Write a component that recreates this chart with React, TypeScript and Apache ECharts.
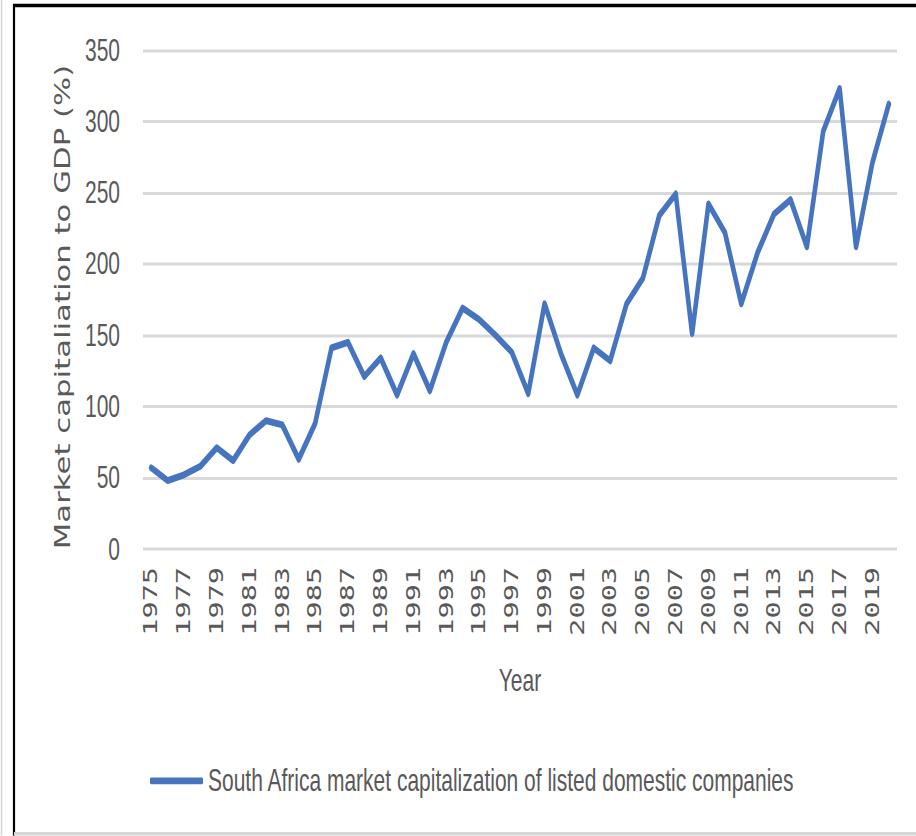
import React, { useEffect, useRef } from "react";
import * as echarts from "echarts";

// Annual market capitalization of listed domestic companies, % of GDP
const years: string[] = [
  "1975", "1976", "1977", "1978", "1979", "1980", "1981", "1982", "1983", "1984",
  "1985", "1986", "1987", "1988", "1989", "1990", "1991", "1992", "1993", "1994",
  "1995", "1996", "1997", "1998", "1999", "2000", "2001", "2002", "2003", "2004",
  "2005", "2006", "2007", "2008", "2009", "2010", "2011", "2012", "2013", "2014",
  "2015", "2016", "2017", "2018", "2019", "2020",
];

const marketCapToGdp: number[] = [
  57, 48, 52, 58, 71, 62, 80, 90, 87, 63,
  88, 141, 145, 121, 134, 108, 137, 111, 145, 169,
  161, 150, 138, 109, 172, 137, 108, 141, 132, 172,
  190, 234, 249, 151, 242, 222, 172, 208, 235, 245,
  212, 293, 323, 212, 271, 312,
];

const seriesName = "South Africa market capitalization of listed domestic companies";
const yAxisTitle = "Market capitaliation to GDP (%)";
const xAxisTitle = "Year";
const yMin = 0;
const yMax = 350;
const yStep = 50;

// The figure is drawn on a shorter canvas and stretched vertically.
const S = 1.5;
const W = 916;
const H = 836;
const innerH = H / S;

const textGrey = "#595959";
const lineBlue = "#4674BF";

export default function App() {
  const ref = useRef<HTMLDivElement>(null);

  useEffect(() => {
    const chart = echarts.init(ref.current!, null, { renderer: "svg" });
    chart.setOption({
      animation: false,
      backgroundColor: "#ffffff",
      grid: {
        left: 143,
        right: 19,
        top: 50 / S,
        bottom: innerH - 549.5 / S,
        containLabel: false,
      },
      xAxis: {
        type: "category",
        data: years,
        boundaryGap: true,
        name: xAxisTitle,
        nameLocation: "middle",
        nameGap: 77,
        nameTextStyle: {
          fontFamily: "Liberation Sans",
          fontSize: 21,
          color: textGrey,
        },
        axisLine: { show: false },
        axisTick: { show: false },
        axisLabel: {
          interval: 1,
          rotate: 90,
          margin: 12,
          fontFamily: "DejaVu Sans Mono",
          fontSize: 19,
          color: textGrey,
        },
        splitLine: { show: false },
      },
      yAxis: {
        type: "value",
        min: yMin,
        max: yMax,
        interval: yStep,
        axisLine: { show: false },
        axisTick: { show: false },
        axisLabel: {
          margin: 23,
          fontFamily: "Liberation Sans",
          fontSize: 21,
          color: textGrey,
        },
        splitLine: { lineStyle: { color: "#d9d9d9", width: 2 } },
      },
      legend: {
        show: true,
        left: 150,
        top: 510,
        padding: 0,
        icon: "roundRect",
        itemWidth: 53,
        itemHeight: 4.5,
        textStyle: {
          fontFamily: "Liberation Sans",
          fontSize: 21,
          color: textGrey,
        },
        data: [seriesName],
      },
      graphic: [
        {
          type: "rect",
          silent: true,
          shape: { x: 14, y: 5.5 / S, width: 1000, height: 1000 },
          style: { fill: "none", stroke: "#000000", lineWidth: 2.2 },
        },
        {
          type: "line",
          silent: true,
          shape: { x1: 1.5, y1: 0, x2: 1.5, y2: innerH },
          style: { stroke: "#d4d4d4", lineWidth: 1.5 },
        },
        {
          type: "rect",
          silent: true,
          shape: { x: 14, y: 832 / S, width: W, height: 4 / S },
          style: { fill: "#d6d6d6" },
        },
        {
          type: "text",
          silent: true,
          x: 63,
          y: 307 / S,
          rotation: Math.PI / 2,
          style: {
            text: yAxisTitle,
            fontFamily: "DejaVu Sans",
            fontSize: 20.5,
            fill: textGrey,
            align: "center",
            verticalAlign: "middle",
            textAlign: "center",
            textVerticalAlign: "middle",
          },
        },
      ],
      series: [
        {
          name: seriesName,
          type: "line",
          data: marketCapToGdp,
          showSymbol: false,
          symbol: "none",
          itemStyle: { color: lineBlue },
          lineStyle: { color: lineBlue, width: 4.6, cap: "round", join: "round" },
        },
      ],
    });
    return () => chart.dispose();
  }, []);

  return (
    <div
      style={{
        position: "absolute",
        left: 0,
        top: 0,
        width: W,
        height: H,
        overflow: "hidden",
        background: "#ffffff",
      }}
    >
      <div
        ref={ref}
        style={{
          width: W,
          height: innerH,
          transform: `scaleY(${S})`,
          transformOrigin: "0 0",
        }}
      />
    </div>
  );
}
